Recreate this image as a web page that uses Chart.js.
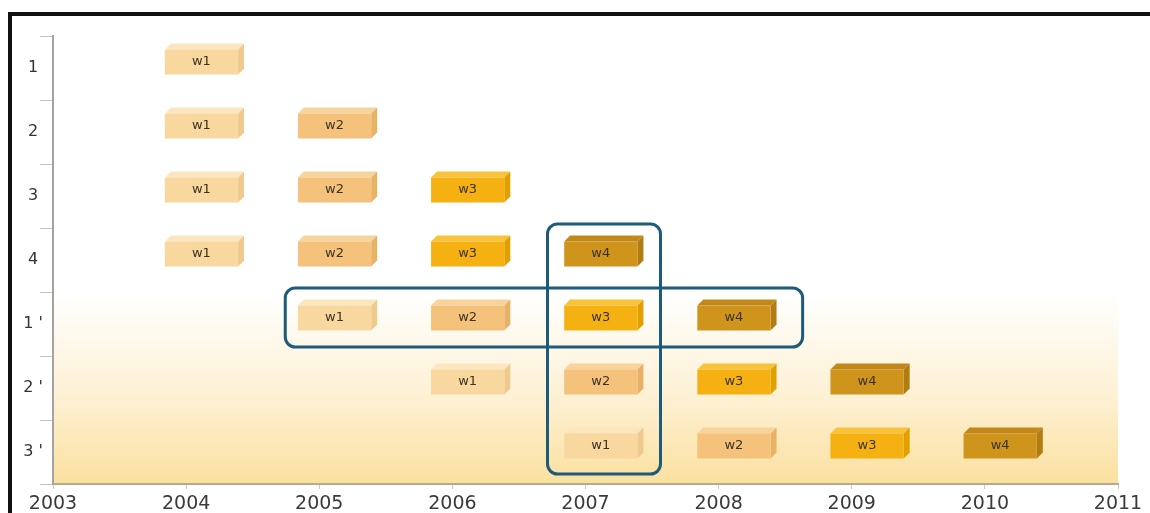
<!DOCTYPE html>
<html>
<head>
<meta charset="utf-8">
<script src="https://cdn.jsdelivr.net/npm/chart.js@4/dist/chart.umd.min.js"></script>
<style>
  html, body { margin: 0; padding: 0; background: #fff; overflow: hidden; }
  #wrap { position: relative; width: 1150px; height: 513px; }
  #frame { position: absolute; left: 8px; top: 12px; width: 1300px; height: 700px;
           border-left: 4px solid #111; border-top: 4px solid #111; pointer-events: none; }
</style>
</head>
<body>
<div id="wrap">
  <canvas id="chart"></canvas>
  <div id="frame"></div>
</div>
<script>
// filas (eje y) y rango de años (eje x)
const rows = ["1", "2", "3", "4", "1 '", "2 '", "3 '"];
const yearMin = 2003;
const yearMax = 2011;

// año de cada bloque por fila (null = sin bloque)
const w1Years = [2004, 2004, 2004, 2004, 2005, 2006, 2007];
const w2Years = [null, 2005, 2005, 2005, 2006, 2007, 2008];
const w3Years = [null, null, 2006, 2006, 2007, 2008, 2009];
const w4Years = [null, null, null, 2007, 2008, 2009, 2010];
const blockNames = ["w1", "w2", "w3", "w4"];

// grupos resaltados
const highlightColumn = { year: 2007, fromRow: "4", toRow: "3 '" };
const highlightRow = { row: "1 '", fromYear: 2005, toYear: 2008 };

// colores: frente, arriba, lado
const boxColors = [
  ["#f8d89f", "#fbe6c0", "#efca8c"],
  ["#f4c27b", "#f8d39c", "#e8b266"],
  ["#f5b112", "#f8c23a", "#e2a000"],
  ["#cf941c", "#c3881a", "#b27c12"],
];

// cada bloque va de un poco antes del año a casi media unidad después
const span = (y) => (y == null ? null : [y - 0.16, y + 0.39]);

const datasets = [w1Years, w2Years, w3Years, w4Years].map((yrs, i) => ({
  label: blockNames[i],
  data: yrs.map(span),
  backgroundColor: "transparent",
  borderWidth: 0,
  barThickness: 25,
  grouped: false,
  colors: boxColors[i],
}));

const DEPTH = 6;
const SHIFT = 6;

const bgGradient = {
  id: "bgGradient",
  beforeDraw(chart) {
    const { ctx, chartArea, scales } = chart;
    const y = scales.y;
    const h = (y.bottom - y.top) / rows.length;
    const top = y.getPixelForValue(rows.indexOf("1 '")) - h / 2;
    const g = ctx.createLinearGradient(0, top, 0, chartArea.bottom);
    g.addColorStop(0, "rgba(255,255,255,1)");
    g.addColorStop(0.55, "#fdf1d4");
    g.addColorStop(1, "#fbe09f");
    ctx.save();
    ctx.fillStyle = g;
    ctx.fillRect(chartArea.left, top, chartArea.right - chartArea.left, chartArea.bottom - top);
    ctx.restore();
  },
};

const boxes3d = {
  id: "boxes3d",
  afterDatasetsDraw(chart) {
    const ctx = chart.ctx;
    ctx.save();
    chart.data.datasets.forEach((ds, i) => {
      const meta = chart.getDatasetMeta(i);
      const [front, topC, side] = ds.colors;
      meta.data.forEach((bar, j) => {
        if (ds.data[j] == null) return;
        const p = bar.getProps(["x", "y", "base", "height"], true);
        const left = Math.min(p.x, p.base);
        const right = Math.max(p.x, p.base);
        const top = p.y - p.height / 2 - SHIFT;
        const bottom = top + p.height;
        // cara superior
        ctx.fillStyle = topC;
        ctx.beginPath();
        ctx.moveTo(left, top);
        ctx.lineTo(left + DEPTH, top - DEPTH);
        ctx.lineTo(right + DEPTH, top - DEPTH);
        ctx.lineTo(right, top);
        ctx.closePath();
        ctx.fill();
        // cara lateral
        ctx.fillStyle = side;
        ctx.beginPath();
        ctx.moveTo(right, top);
        ctx.lineTo(right + DEPTH, top - DEPTH);
        ctx.lineTo(right + DEPTH, bottom - DEPTH);
        ctx.lineTo(right, bottom);
        ctx.closePath();
        ctx.fill();
        // frente
        ctx.fillStyle = front;
        ctx.fillRect(left, top, right - left, p.height);
        // texto
        ctx.fillStyle = "#3a3226";
        ctx.font = "13px 'DejaVu Sans', sans-serif";
        ctx.textAlign = "center";
        ctx.textBaseline = "middle";
        ctx.fillText(ds.label, (left + right) / 2, top + p.height / 2);
      });
    });
    ctx.restore();
  },
};

const highlights = {
  id: "highlights",
  afterDatasetsDraw(chart) {
    const { ctx, scales } = chart;
    const x = scales.x, y = scales.y;
    const yc = (r) => y.getPixelForValue(rows.indexOf(r));
    ctx.save();
    ctx.strokeStyle = "#1d5b7c";
    ctx.lineWidth = 3;
    // columna
    let l = x.getPixelForValue(highlightColumn.year) - 38;
    let r = x.getPixelForValue(highlightColumn.year) + 75;
    let t = yc(highlightColumn.fromRow) - 36;
    let b = yc(highlightColumn.toRow) + 22;
    ctx.beginPath();
    ctx.roundRect(l, t, r - l, b - t, 10);
    ctx.stroke();
    // fila
    l = x.getPixelForValue(highlightRow.fromYear) - 34;
    r = x.getPixelForValue(highlightRow.toYear) + 84;
    t = yc(highlightRow.row) - 36;
    b = yc(highlightRow.row) + 23;
    ctx.beginPath();
    ctx.roundRect(l, t, r - l, b - t, 10);
    ctx.stroke();
    ctx.restore();
  },
};

Chart.defaults.font.family = "'DejaVu Sans', sans-serif";

const ctx = document.getElementById("chart").getContext("2d");
new Chart(ctx, {
  type: "bar",
  data: { labels: rows, datasets: datasets },
  options: {
    indexAxis: "y",
    responsive: true,
    maintainAspectRatio: false,
    animation: false,
    layout: { padding: { top: 36, right: 32, bottom: 0, left: 0 } },
    plugins: { legend: { display: false }, tooltip: { enabled: false } },
    scales: {
      x: {
        type: "linear",
        min: yearMin,
        max: yearMax,
        afterFit: (s) => { s.height = 29; },
        ticks: {
          stepSize: 1,
          callback: (v) => String(v),
          color: "#3a3a3a",
          font: { size: 19 },
          padding: 4,
          maxRotation: 0,
        },
        grid: { drawOnChartArea: false, tickLength: 5, color: "#c8c8c8" },
        border: { color: "#b8a98e", width: 2 },
      },
      y: {
        afterFit: (s) => { s.width = 53; },
        ticks: {
          color: "#333",
          font: { size: 16 },
          crossAlign: "center",
          padding: -3,
        },
        grid: { drawOnChartArea: false, tickLength: 13, color: "#c4c4c4" },
        border: { color: "#a3a3a3", width: 2 },
      },
    },
  },
  plugins: [bgGradient, boxes3d, highlights],
});
</script>
</body>
</html>
